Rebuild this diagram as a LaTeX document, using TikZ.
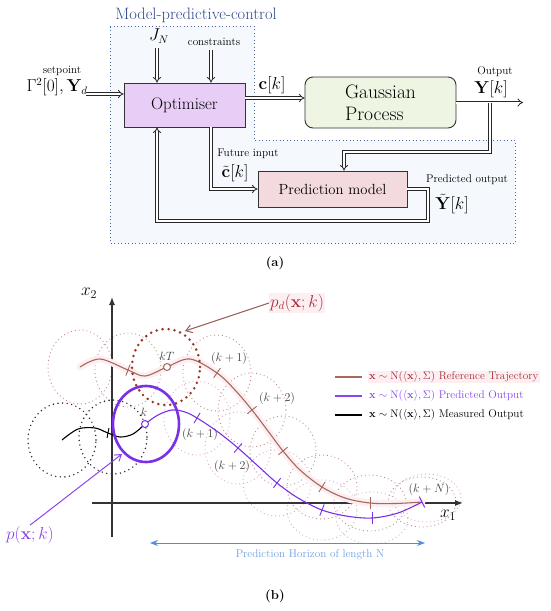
\documentclass[tikz,border=0pt]{standalone}
\usepackage{amsmath}
\usetikzlibrary{arrows.meta,calc}
\definecolor{mpcblue}{HTML}{2F4B8E}
\definecolor{mpcborder}{HTML}{4A6A9A}
\definecolor{mpcfill}{HTML}{F5F8FC}
\definecolor{optfill}{HTML}{E8CDF6}
\definecolor{gpfill}{HTML}{EEF5E2}
\definecolor{pmfill}{HTML}{F2DADF}
\definecolor{refc}{HTML}{A8675C}
\definecolor{refdark}{HTML}{9A3522}
\definecolor{pdred}{HTML}{A8323E}
\definecolor{predc}{HTML}{7A30E8}
\definecolor{predtext}{HTML}{8A44F0}
\definecolor{horizc}{HTML}{4F8FE0}
\definecolor{horiztext}{HTML}{6E9FE2}
\definecolor{faintref}{HTML}{C48A8A}
\definecolor{faintpred}{HTML}{D4AFC4}
\definecolor{glow}{HTML}{FCEEF1}
\newcommand\szTitle{\fontsize{16.5}{19}\selectfont}
\newcommand\szBox{\fontsize{16.8}{20}\selectfont}
\newcommand\szGP{\fontsize{19.5}{23}\selectfont}
\newcommand\szPM{\fontsize{14.7}{17}\selectfont}
\newcommand\szSmall{\fontsize{11.2}{13}\selectfont}
\newcommand\szMath{\fontsize{16}{19}\selectfont}
\newcommand\szLbl{\fontsize{12.4}{14}\selectfont}
\newcommand\szAxis{\fontsize{18}{20}\selectfont}
\newcommand\szCap{\fontsize{13}{15}\selectfont}
\begin{document}
\begin{tikzpicture}[x=1pt,y=-1pt,
  box/.style={draw=black!80, line width=0.9pt, inner sep=0pt},
  dbl/.style={draw=black!85, line width=0.8pt, double=white, double distance=2pt, -{Implies}},
  lbl/.style={inner sep=1pt},
  tick/.style={line width=0.9pt},
  fref/.style={draw=faintref, line width=0.9pt, dash pattern=on 0.9pt off 3pt},
  fpred/.style={draw=faintpred, line width=0.9pt, dash pattern=on 0.9pt off 3pt},
  bdot/.style={draw=black!85, line width=1.6pt, line cap=round, dash pattern=on 0pt off 4.6pt},
  axisline/.style={draw=black!80, line width=1.2pt, -{Latex[length=8pt,width=6pt]}},
  legline/.style={line width=1.2pt}]
\useasboundingbox (0,0) rectangle (550,611);

% ---------------- (a) block diagram ----------------
\fill[mpcfill] (110,26) -- (254,26) -- (254,140) -- (515,140) -- (515,243) -- (110,243) -- cycle;
\draw[mpcborder, line width=0.9pt, dash pattern=on 0.9pt off 2.6pt] (110,26) -- (254,26) -- (254,140) -- (515,140) -- (515,243) -- (110,243) -- cycle;
\node[text=mpcblue, lbl, font=\szTitle] (title) at (196,15) {Model-predictive-control};

\node[box, fill=optfill, minimum width=121pt, minimum height=44pt, font=\szBox] (opt) at (184.5,105) {Optimiser};
\node[box, fill=gpfill, rounded corners=8pt, minimum width=151pt, minimum height=51pt, align=left, font=\szGP] (gp) at (380.5,102.5) {Gaussian\\[-1pt]Process};
\node[box, fill=pmfill, minimum width=149pt, minimum height=36pt, font=\szPM] (pm) at (332.5,189) {Prediction model};

% setpoint
\node[lbl, font=\szSmall] (splab) at (62,71) {setpoint};
\node[lbl, font=\szMath] (spmath) at (57,87) {$\Gamma^2[0],\mathbf{Y}_d$};
\coordinate (spin) at (86,94);
\draw[dbl] (spin) -- (spin -| opt.west);

% J_N and constraints
\node[lbl, font=\szMath] (jn) at (159,36) {$J_N$};
\coordinate (jnA) at (157,48);
\draw[dbl] (jnA) -- (jnA |- opt.north);
\node[lbl, font=\szSmall] (cons) at (214,42) {constraints};
\coordinate (csA) at (211,50);
\draw[dbl] (csA) -- (csA |- opt.north);

% c[k]
\coordinate (ckA) at (245,98);
\draw[dbl] (ckA -| opt.east) -- (ckA -| gp.west);
\node[lbl, font=\szMath] (cklab) at (272,85) {$\mathbf{c}[k]$};

% output
\coordinate (outend) at (523,102.5);
\draw[dbl] (gp.east) -- (outend);
\node[lbl, font=\szSmall] (outlab) at (495,72) {Output};
\node[lbl, font=\szMath] (ylab) at (491,89) {$\mathbf{Y}[k]$};
\coordinate (br) at (490,102.5);
\coordinate (pmin) at (344,152);
\draw[dbl] (br) |- (pmin) -- (pmin |- pm.north);

% future input
\draw[dbl] (csA |- opt.south) |- (pm.west);
\node[lbl, font=\szSmall, inner sep=0pt] (filab) at (248,154) {Future input};
\node[lbl, font=\szMath, inner sep=0pt] (ctlab) at (235,173) {$\tilde{\mathbf{c}}[k]$};

% predicted output feedback
\coordinate (fbR) at (428,221);
\draw[dbl] (pm.east) -| (fbR) -| (jnA |- opt.south);
\node[lbl, font=\szSmall, inner sep=0pt] (polab) at (467,180) {Predicted output};
\node[lbl, font=\szMath, inner sep=0pt] (ytlab) at (452,204) {$\tilde{\mathbf{Y}}[k]$};

\node[lbl, font=\szCap] (capa) at (275,263) {\bfseries (a)};

% ---------------- (b) plot ----------------
\draw[fref] (80,367) ellipse [x radius=32pt, y radius=37pt];
\draw[fref] (128,370) ellipse [x radius=33pt, y radius=37pt];
\draw[fref] (217,373) ellipse [x radius=34pt, y radius=38pt];
\draw[fref] (252,410) ellipse [x radius=34pt, y radius=37pt];
\draw[fref] (283,451) ellipse [x radius=33pt, y radius=35pt];
\draw[fref] (322,487) ellipse [x radius=35pt, y radius=32pt];
\draw[fref] (370,503) ellipse [x radius=36pt, y radius=28pt];
\draw[fref] (422,502) ellipse [x radius=34pt, y radius=25pt];
\draw[fpred] (197,418) ellipse [x radius=33pt, y radius=37pt];
\draw[fpred] (238,448) ellipse [x radius=33pt, y radius=36pt];
\draw[fpred] (277,483) ellipse [x radius=34pt, y radius=33pt];
\draw[fpred] (322,510) ellipse [x radius=35pt, y radius=30pt];
\draw[fpred] (372,518) ellipse [x radius=36pt, y radius=26pt];
\draw[fpred] (427,498) ellipse [x radius=34pt, y radius=24pt];
\draw[bdot] (62,440) ellipse [x radius=34pt, y radius=37pt];
\draw[bdot] (113,437) ellipse [x radius=34pt, y radius=37pt];

% axes
\draw[axisline] (112,537) -- (112,297);
\draw[axisline] (92,503) -- (463,503);
\node[lbl, font=\szAxis] (x2lab) at (89,293) {$x_2$};
\node[lbl, font=\szAxis] (x1lab) at (448,515) {$x_1$};

% glow under reference
\draw[glow, line width=7pt, line cap=round] plot[smooth, tension=0.55] coordinates {(80,367) (100,359) (128,370) (145,376) (167,367) (190,359) (217,373) (235,390) (252,410) (268,431) (283,451) (300,470) (322,487) (345,498) (370,503) (395,503.5) (422,502)};

\draw[refc, line width=1.1pt] plot[smooth, tension=0.55] coordinates {(80,367) (100,359) (128,370) (145,376) (167,367) (190,359) (217,373) (235,390) (252,410) (268,431) (283,451) (300,470) (322,487) (345,498) (370,503) (395,503.5) (422,502)};
\draw[predc, line width=1.1pt] plot[smooth, tension=0.55] coordinates {(145,424) (158,415) (172,410) (185,412) (197,418) (218,432) (238,448) (258,466) (277,483) (298,498) (322,510) (346,516) (372,518) (398,513) (422,502)};
\draw[black, line width=1.1pt] plot[smooth, tension=0.55] coordinates {(62,440) (78,429) (95,428) (108,433) (120,437) (133,434) (145,424)};

\draw[predc, line width=2.6pt] (146,424) ellipse [x radius=33pt, y radius=38pt];
\draw[refdark, line width=2.8pt, line cap=round, dash pattern=on 0pt off 6pt] (166,367) ellipse [x radius=34pt, y radius=38pt];

\draw[tick, refc] (125.8,375.6) -- (130.2,364.4);
\draw[tick, refc] (213.6,377.9) -- (220.4,368.1);
\draw[tick, refc] (247.3,413.7) -- (256.7,406.3);
\draw[tick, refc] (278.4,454.8) -- (287.6,447.2);
\draw[tick, refc] (318.8,492.1) -- (325.2,481.9);
\draw[tick, refc] (370,509) -- (370,497);
\draw[tick, predc] (193.9,423.2) -- (200.1,412.8);
\draw[tick, predc] (234.1,452.6) -- (241.9,443.4);
\draw[tick, predc] (273.4,487.8) -- (280.6,478.2);
\draw[tick, predc] (319.8,515.6) -- (324.2,504.4);
\draw[tick, predc] (372,524) -- (372,512);
\draw[tick, predc] (424.7,507.4) -- (419.3,496.6);
\draw[tick, black] (107,438) -- (109,428);

\node[circle, draw=refc, fill=white, line width=1pt, inner sep=0pt, minimum size=7pt] (kTm) at (167,367) {};
\node[circle, draw=predc, fill=white, line width=1pt, inner sep=0pt, minimum size=7pt] (km) at (145,424) {};

\node[lbl, text=black!75, font=\szLbl] (kTlab) at (167,356) {$kT$};
\node[lbl, text=black!75, font=\szLbl] (r1lab) at (229,358) {$(k+1)$};
\node[lbl, text=black!75, font=\szLbl] (r2lab) at (277,398) {$(k+2)$};
\node[lbl, text=black!75, font=\szLbl] (klab) at (144,412) {$k$};
\node[lbl, text=black!75, font=\szLbl] (p1lab) at (200,434) {$(k+1)$};
\node[lbl, text=black!75, font=\szLbl] (p2lab) at (232,466) {$(k+2)$};
\node[lbl, text=black!75, font=\szLbl] (kNlab) at (429,489) {$(k+N)$};

\node[lbl, text=pdred, fill=glow, font=\szMath] (pd) at (297,303) {$p_d(\mathbf{x};k)$};
\coordinate (pdtip) at (185,331);
\draw[refc!90!black, line width=1pt, -{Straight Barb[length=6pt,width=8pt]}] (pd.west) -- (pdtip);

\node[lbl, text=predtext, font=\szMath] (plab) at (30,535) {$p(\mathbf{x};k)$};
\coordinate (ptip) at (122,454);
\draw[predtext, line width=1pt, -{Straight Barb[length=6pt,width=8pt]}] (plab.north) -- (ptip);

\coordinate (lg1a) at (335,377); \coordinate (lg1b) at (362,377);
\coordinate (lg2a) at (335,396); \coordinate (lg2b) at (362,396);
\coordinate (lg3a) at (335,415); \coordinate (lg3b) at (362,415);
\draw[legline, refc] (lg1a) -- (lg1b);
\draw[legline, predtext] (lg2a) -- (lg2b);
\draw[legline, black] (lg3a) -- (lg3b);
\node[lbl, anchor=west, text=pdred, fill=glow, font=\szSmall] (lg1) at (368,377) {$\mathbf{x}\sim\mathrm{N}(\langle\mathbf{x}\rangle,\Sigma)$ Reference Trajectory};
\node[lbl, anchor=west, text=predtext, font=\szSmall] (lg2) at (368,396) {$\mathbf{x}\sim\mathrm{N}(\langle\mathbf{x}\rangle,\Sigma)$ Predicted Output};
\node[lbl, anchor=west, text=black, font=\szSmall] (lg3) at (368,415) {$\mathbf{x}\sim\mathrm{N}(\langle\mathbf{x}\rangle,\Sigma)$ Measured Output};

\coordinate (hL) at (150,543);
\coordinate (hR) at (425,543);
\draw[horizc, line width=1pt, {Stealth[length=8pt,width=6pt]}-{Stealth[length=8pt,width=6pt]}] (hL) -- (hR);
\node[lbl, text=horiztext, font=\szSmall] (hlab) at (310,555) {Prediction Horizon of length N};

\node[lbl, font=\szCap] (capb) at (275,596) {\bfseries (b)};
\end{tikzpicture}
\end{document}
